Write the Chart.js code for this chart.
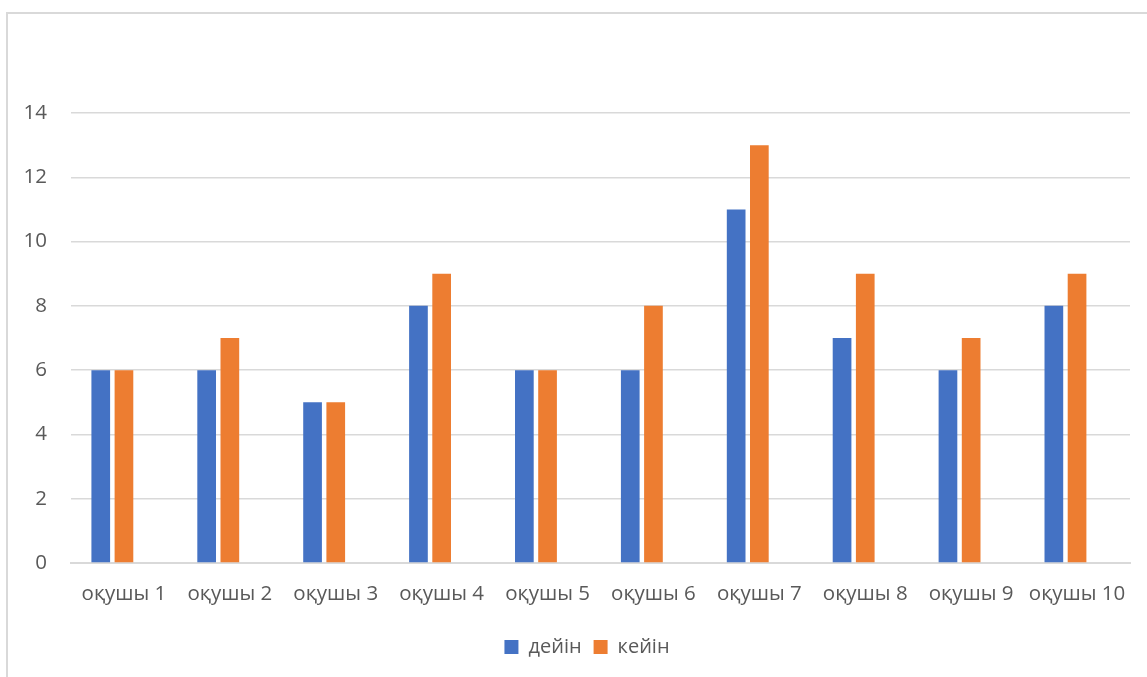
<!DOCTYPE html>
<html>
<head>
<meta charset="utf-8">
<script src="https://cdn.jsdelivr.net/npm/chart.js@4/dist/chart.umd.min.js"></script>
<style>
  html, body { margin: 0; padding: 0; background: #fff; overflow: hidden; }
  #frame {
    position: absolute; left: 6px; top: 12px; width: 1200px; height: 700px;
    border: 2px solid #d9d9d9; box-sizing: border-box;
  }
  #wrap { position: absolute; left: 0; top: 0; width: 1147px; height: 677px; }
</style>
</head>
<body>
<div id="frame"></div>
<div id="wrap"><canvas id="chart"></canvas></div>
<script>
// Chart data
const categories = ["оқушы 1", "оқушы 2", "оқушы 3", "оқушы 4", "оқушы 5",
  "оқушы 6", "оқушы 7", "оқушы 8", "оқушы 9", "оқушы 10"];
const before = [6, 6, 5, 8, 6, 6, 11, 7, 6, 8];
const after = [6, 7, 5, 9, 6, 8, 13, 9, 7, 9];
const yTicks = [0, 2, 4, 6, 8, 10, 12, 14];

const textColor = "#595959";
const gridColor = "#d9d9d9";
Chart.defaults.font.family = "'Open Sans', sans-serif";

// the legend in the original sits a bit right of the canvas centre
const legendShift = {
  id: "legendShift",
  afterLayout(chart) {
    if (!chart.legend) return;
    chart.legend.left += 22;
    chart.legend.right += 22;
  },
};

new Chart(document.getElementById("chart").getContext("2d"), {
  type: "bar",
  data: {
    labels: categories,
    datasets: [
      { label: "дейін", data: before, backgroundColor: "#4472C4" },
      { label: "кейін", data: after, backgroundColor: "#ED7D31" },
      // empty third series (as in the source workbook) keeps the bar pairs left of centre
      { label: "", data: [], backgroundColor: "transparent" },
    ],
  },
  plugins: [legendShift],
  options: {
    responsive: true,
    maintainAspectRatio: false,
    animation: false,
    categoryPercentage: 0.657,
    barPercentage: 0.806,
    layout: { padding: { top: 113, right: 17, bottom: 10, left: 0 } },
    plugins: {
      tooltip: { enabled: false },
      legend: {
        position: "bottom",
        labels: {
          color: textColor,
          font: { size: 20 },
          boxWidth: 14,
          boxHeight: 14,
          padding: 12,
          filter: (item) => item.text !== "",
        },
      },
    },
    scales: {
      x: {
        grid: { display: false },
        border: { display: true, color: gridColor, width: 2 },
        ticks: { color: textColor, font: { size: 20.5 }, padding: 11, maxRotation: 0, autoSkip: false },
        afterFit: (scale) => { scale.height = 62; },
      },
      y: {
        min: 0,
        max: 14,
        afterBuildTicks: (scale) => { scale.ticks = yTicks.map((v) => ({ value: v })); },
        grid: { color: gridColor, lineWidth: 1.5, drawTicks: false },
        border: { display: false },
        ticks: { color: textColor, font: { size: 20.5 }, padding: 24 },
        afterFit: (scale) => { scale.width = 71; },
      },
    },
  },
});
</script>
</body>
</html>
